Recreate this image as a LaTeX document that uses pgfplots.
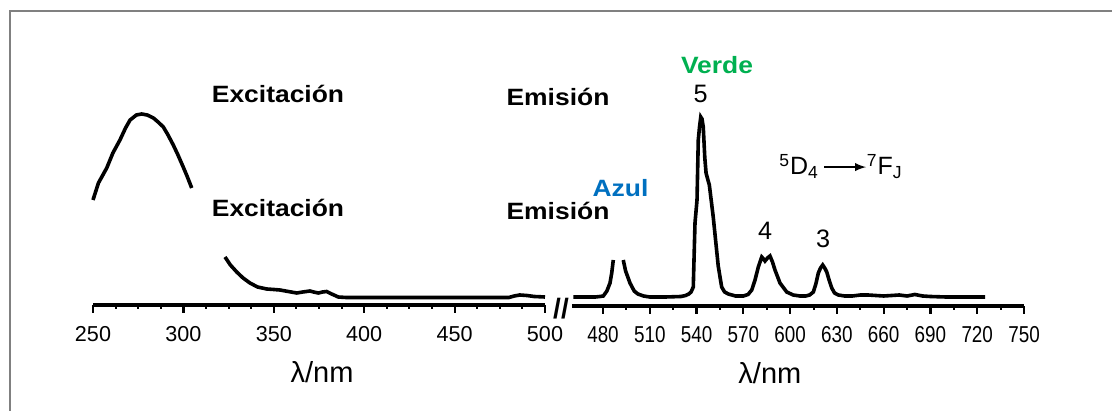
\documentclass[border=0pt]{standalone}
\usepackage{fontspec}
\setmainfont{Liberation Sans}
\usepackage{pgfplots}
\pgfplotsset{compat=1.18}
\definecolor{verde}{HTML}{00B050}
\definecolor{azul}{HTML}{0070C0}
\definecolor{marco}{HTML}{808080}

\pgfplotsset{spec/.style={
  scale only axis, height=150pt,
  axis x line=bottom, axis y line=none,
  ymin=0, ymax=300,
  axis line style={line width=1.8pt, -},
  tick align=outside,
  major tick length=3.8pt, minor tick length=2pt,
  major tick style={line width=1.1pt, black},
  minor tick style={line width=1pt, black},
  /pgf/number format/assume math mode=true,
  /pgf/number format/set thousands separator={},
  xticklabel style={font=\fontsize{10.8}{12}\selectfont, anchor=base, yshift=-14.5pt},
  unbounded coords=jump, clip=false,
  xlabel style={font=\fontsize{14.5}{16}\selectfont, anchor=base},
}}

\begin{document}
\begin{tikzpicture}
\useasboundingbox (0,0) rectangle (556pt,205.5pt);

\begin{axis}[spec, at={(46.5pt,53pt)}, anchor=south west, width=226pt,
  xmin=250, xmax=500, xtick={250,300,...,500}, minor x tick num=3,
  xlabel={λ/nm},
  xlabel style={at={(axis description cs:0.5,0)}, yshift=-39pt, xshift=1.5pt}]
\addplot[line width=1.8pt, black] coordinates {
(250,105) (253,122) (257.6,137) (261,152) (264.9,165) (268,177) (270.5,185)
(274,190) (276.9,191) (280,190) (283.4,187) (286,183) (288.9,178) (291.5,170)
(294.4,160) (297,150) (299.9,138) (302,129) (304.6,117) (305,nan)
(323,48) (326,40) (329.5,33) (333,27) (336.8,22) (341,18) (346.1,16) (350,15.5)
(353.4,15) (358,13.5) (362.7,12) (366,13) (370,14) (372,13) (374.6,12) (377,13)
(379.2,13.5) (382,11) (385.7,8) (390,7.5) (400,7.5) (450,7.5) (480,7.5)
(483,9) (486,10) (490,9.5) (494,8.5) (500,8)
};
\end{axis}

\begin{axis}[spec, at={(285.9pt,52.5pt)}, anchor=south west, width=226.1pt,
  xmin=460, xmax=750, xtick={480,510,...,750}, minor x tick num=1,
  xticklabel style={font=\fontsize{11.5}{13}\selectfont, xscale=0.82},
  xlabel={λ/nm},
  xlabel style={at={(axis description cs:0.5,0)}, yshift=-38.5pt, xshift=-14pt}]
\addplot[line width=1.8pt, black] coordinates {
(461,9) (475,9) (478,9.5) (480.2,10) (482.5,15) (484.5,23) (485.6,33) (486.6,46) (487,nan)
(493,46) (494.5,35) (497.3,23) (500,15) (502.4,12) (506,10) (510,9) (520,9) (530,9.5)
(533,10.5) (535,12) (536.5,14) (537.9,19) (539,83) (540.3,106) (541.1,166) (541.9,179)
(542.7,189) (543.5,187) (544.3,179) (545.3,148) (546.1,133) (547.3,126) (548.2,121)
(550.7,89) (553.9,40) (556.1,19) (558,14) (560.4,12) (565,10) (570,10) (573,11.5)
(575.4,16) (577.5,26) (579.6,39) (581.8,49) (583,47) (583.9,45) (585.5,48) (587.1,50)
(588.7,44) (590.3,36) (593.5,23) (597.8,14) (602,11) (606.3,10) (610,10) (612.5,11)
(614.9,14) (616.5,22) (618.1,33) (619.5,38) (620.9,41) (622.2,38) (623.5,34) (625,26)
(626.7,18) (628.5,13) (630.9,11) (635,10) (640,10) (645,11) (650,11) (655,10.5)
(660,10) (665,10.5) (670,11) (675,10) (680,11.5) (685,10) (690,9.5) (700,9) (725,9)
};
\end{axis}

\begin{scope}[x=0.5pt, y=-0.5pt, yshift=205.5pt]
\draw[marco, line width=1.3pt] (10,412) -- (10,11) -- (1113,11);
\tikzset{lbl/.style={font=\fontsize{11.8}{14}\selectfont\bfseries, xscale=1.12, anchor=base, inner sep=0pt}}
\node[lbl] at (278,103) {Excitación};
\node[lbl] at (278,217) {Excitación};
\node[lbl] at (558,106) {Emisión};
\node[lbl] at (558,220) {Emisión};
\node[lbl, text=verde] at (717,74) {Verde};
\node[lbl, text=azul] at (620.5,197) {Azul};
\tikzset{num/.style={font=\fontsize{12.6}{14}\selectfont, anchor=base, inner sep=0pt}}
\node[num] at (700.5,103) {5};
\node[num] at (765,240) {4};
\node[num] at (823,248) {3};
\node[font=\fontsize{12.5}{14}\selectfont, anchor=base west, inner sep=0pt] at (779,175)
  {\textsuperscript{5}D\textsubscript{4}\,\tikz[baseline=-0.6ex]\draw[-latex, line width=0.9pt] (0pt,0pt) -- (21pt,0pt);\textsuperscript{7}F\textsubscript{J}};
\node[font=\fontsize{14}{16}\selectfont\bfseries, inner sep=0pt] at (561,309) {//};
\end{scope}
\end{tikzpicture}
\end{document}
